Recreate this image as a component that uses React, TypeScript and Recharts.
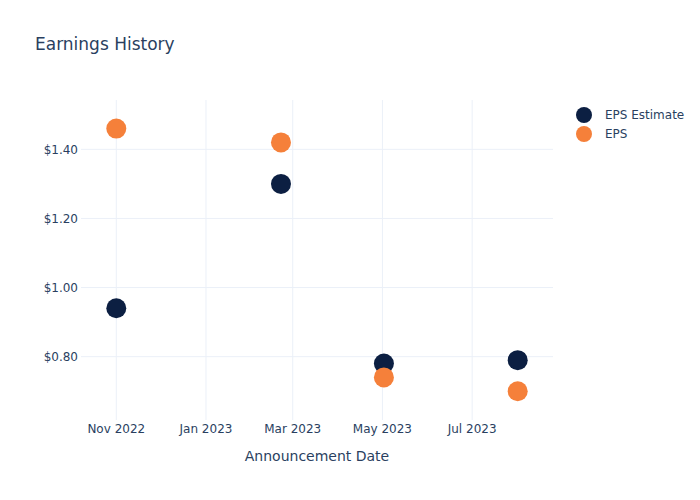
import React from "react";
import { ScatterChart, Scatter, XAxis, YAxis, CartesianGrid } from "recharts";

const announcementDates = ["2022-11-01", "2023-02-21", "2023-05-02", "2023-08-01"];
const epsEstimate = [0.94, 1.3, 0.78, 0.79];
const epsActual = [1.46, 1.42, 0.74, 0.7];
const xTickDates = ["2022-11-01", "2023-01-01", "2023-03-01", "2023-05-01", "2023-07-01"];
const yTicks = [0.8, 1.0, 1.2, 1.4];
const xDomainDates = ["2022-10-08", "2023-08-25"];
const yDomain = [0.6168, 1.5427];

const MONTHS = ["Jan", "Feb", "Mar", "Apr", "May", "Jun", "Jul", "Aug", "Sep", "Oct", "Nov", "Dec"];
const toTs = (s: string) => {
  const [y, m, d] = s.split("-").map(Number);
  return Date.UTC(y, m - 1, d);
};
const fmtDate = (t: number) => {
  const d = new Date(t);
  return `${MONTHS[d.getUTCMonth()]} ${d.getUTCFullYear()}`;
};

const estData = announcementDates.map((d, i) => ({ x: toTs(d), y: epsEstimate[i] }));
const epsData = announcementDates.map((d, i) => ({ x: toTs(d), y: epsActual[i] }));

const NAVY = "#0c1f42";
const ORANGE = "#f5803a";
const TEXT = "#2a3f5f";
const FONT = '"DejaVu Sans", Verdana, sans-serif';

const Dot = (color: string) => (props: any) => (
  <circle cx={props.cx} cy={props.cy} r={10} fill={color} />
);

const legendItems = [
  { name: "EPS Estimate", color: NAVY },
  { name: "EPS", color: ORANGE },
];

export default function App() {
  return (
    <div style={{ position: "absolute", left: 0, top: 0, width: 700, height: 500, background: "#fff" }}>
      <div
        style={{
          position: "absolute",
          left: 35,
          top: 33,
          fontFamily: FONT,
          fontSize: 17,
          lineHeight: "22px",
          color: TEXT,
          whiteSpace: "nowrap",
        }}
      >
        Earnings History
      </div>
      <div style={{ position: "absolute", left: 576, top: 105, fontFamily: FONT, fontSize: 12, color: TEXT }}>
        {legendItems.map((it) => (
          <div key={it.name} style={{ display: "flex", alignItems: "center", height: 19 }}>
            <svg width={16} height={16} style={{ marginRight: 13 }}>
              <circle cx={8} cy={8} r={8} fill={it.color} />
            </svg>
            <span>{it.name}</span>
          </div>
        ))}
      </div>
      <ScatterChart
        width={700}
        height={500}
        margin={{ top: 100, right: 147, bottom: 50, left: 31 }}
        style={{ fontFamily: FONT, position: "absolute", left: 0, top: 0 }}
      >
        <CartesianGrid stroke="#ebf0f8" strokeWidth={1} syncWithTicks />
        <XAxis
          type="number"
          dataKey="x"
          domain={xDomainDates.map(toTs)}
          ticks={xTickDates.map(toTs)}
          tickFormatter={fmtDate}
          allowDataOverflow
          axisLine={false}
          tickLine={false}
          tickSize={0}
          tickMargin={4}
          height={30}
          tick={{ fill: TEXT, fontSize: 12 }}
          label={{ value: "Announcement Date", position: "bottom", offset: 1, fill: TEXT, fontSize: 14 }}
        />
        <YAxis
          type="number"
          dataKey="y"
          domain={yDomain}
          ticks={yTicks}
          tickFormatter={(v: number) => `$${v.toFixed(2)}`}
          allowDataOverflow
          axisLine={false}
          tickLine={false}
          tickSize={0}
          tickMargin={3}
          width={50}
          tick={{ fill: TEXT, fontSize: 12 }}
        />
        <Scatter name="EPS Estimate" data={estData} fill={NAVY} shape={Dot(NAVY)} isAnimationActive={false} />
        <Scatter name="EPS" data={epsData} fill={ORANGE} shape={Dot(ORANGE)} isAnimationActive={false} />
      </ScatterChart>
    </div>
  );
}
